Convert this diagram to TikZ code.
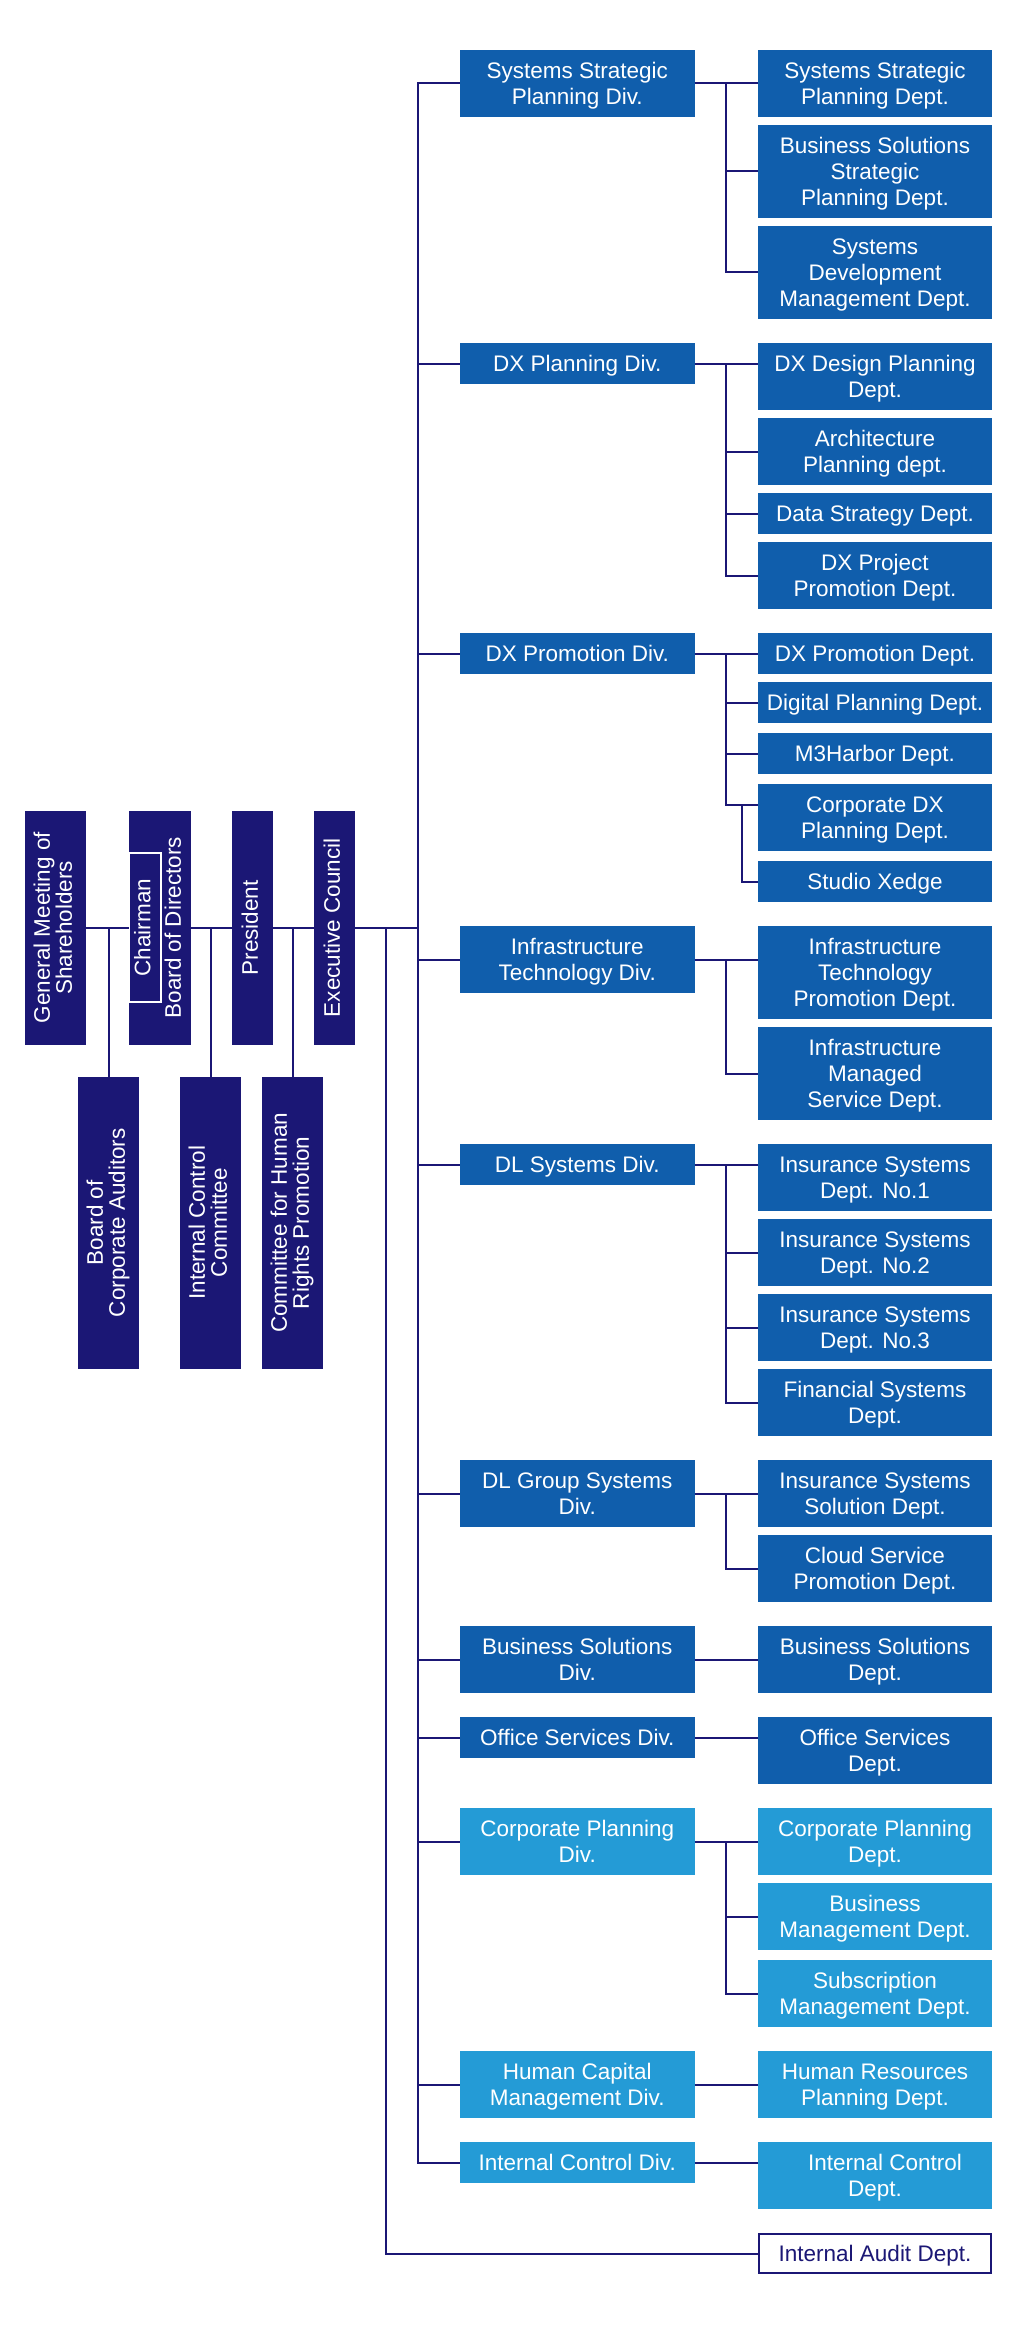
\documentclass[tikz,border=0pt]{standalone}
\usepackage{fontspec}
\usepackage{graphicx}
\setmainfont{Liberation Sans}
\usetikzlibrary{calc}
\definecolor{navy}{RGB}{27,23,117}
\definecolor{midblue}{RGB}{16,94,172}
\definecolor{lightblue}{RGB}{36,155,214}
\newcommand\govtext[1]{\rotatebox{90}{\begin{tabular}{@{}c@{}}#1\end{tabular}}}
\newcommand\bt[1]{\raisebox{-2.6pt}[\height][\depth]{\begin{tabular}{@{}c@{}}#1\end{tabular}}}
\tikzset{
  box/.style={rectangle, inner sep=0pt, align=center, text=white, font=\fontsize{22.5}{26}\selectfont},
  divbox/.style={box, fill=midblue, minimum width=234.5pt},
  deptbox/.style={box, fill=midblue, minimum width=234pt},
  ldivbox/.style={divbox, fill=lightblue},
  ldeptbox/.style={deptbox, fill=lightblue},
  govbox/.style={box, fill=navy, font=\fontsize{22.5}{19}\selectfont},
  link/.style={draw=navy, line width=2pt},
}
\begin{document}
\begin{tikzpicture}[x=1pt,y=-1pt]
\useasboundingbox[fill=white] (0,0) rectangle (1014,2325);

% ---------- governance ----------
\node[govbox, minimum width=61pt, minimum height=233.5pt] (gm) at (55.5,927.75) {\govtext{General Meeting of\\Shareholders}};
\node[govbox, minimum width=62pt, minimum height=233.5pt] (bod) at (160,927.75) {};
\node[govbox, draw=white, line width=1.5pt, minimum width=32pt, minimum height=149pt] (chair) at (145,927.5) {\govtext{Chairman}};
\node[govbox, fill=none] (bodlabel) at (175.5,927.75) {\govtext{Board of Directors}};
\node[govbox, minimum width=41pt, minimum height=233.5pt] (pres) at (252.5,927.75) {\govtext{President}};
\node[govbox, minimum width=41pt, minimum height=233.5pt] (ec) at (334.5,927.75) {\govtext{Executive Council}};
\node[govbox, minimum width=61pt, minimum height=291.5pt] (bca) at (108.5,1222.75) {\govtext{Board of\\Corporate Auditors}};
\node[govbox, minimum width=61pt, minimum height=291.5pt] (icc) at (210.5,1222.75) {\govtext{Internal Control\\Committee}};
\node[govbox, minimum width=61pt, minimum height=291.5pt] (hrc) at (292.5,1222.75) {\govtext{Committee for Human\\Rights Promotion}};

% ---------- divisions ----------
\node[divbox, minimum height=67pt] (d1) at (577.25,83.5) {\bt{Systems Strategic\\Planning Div.}};
\node[divbox, minimum height=41pt] (d2) at (577.25,363.5) {\bt{DX Planning Div.}};
\node[divbox, minimum height=41pt] (d3) at (577.25,653.5) {\bt{DX Promotion Div.}};
\node[divbox, minimum height=67pt] (d4) at (577.25,959.5) {\bt{Infrastructure\\Technology Div.}};
\node[divbox, minimum height=41pt] (d5) at (577.25,1164.5) {\bt{DL Systems Div.}};
\node[divbox, minimum height=67pt] (d6) at (577.25,1493.5) {\bt{DL Group Systems\\Div.}};
\node[divbox, minimum height=67pt] (d7) at (577.25,1659.5) {\bt{Business Solutions\\Div.}};
\node[divbox, minimum height=41pt] (d8) at (577.25,1737.5) {\bt{Office Services Div.}};
\node[ldivbox, minimum height=67pt] (d9) at (577.25,1841.5) {\bt{Corporate Planning\\Div.}};
\node[ldivbox, minimum height=67pt] (d10) at (577.25,2084.5) {\bt{Human Capital\\Management Div.}};
\node[ldivbox, minimum height=41pt] (d11) at (577.25,2162.5) {\bt{Internal Control Div.}};

% ---------- departments ----------
\node[deptbox, minimum height=67pt] (p1a) at (875,83.5) {\bt{Systems Strategic\\Planning Dept.}};
\node[deptbox, minimum height=93pt] (p1b) at (875,171.5) {\bt{Business Solutions\\Strategic\\Planning Dept.}};
\node[deptbox, minimum height=93pt] (p1c) at (875,272.5) {\bt{Systems\\Development\\Management Dept.}};

\node[deptbox, minimum height=67pt] (p2a) at (875,376.5) {\bt{DX Design Planning\\Dept.}};
\node[deptbox, minimum height=67pt] (p2b) at (875,451.5) {\bt{Architecture\\Planning dept.}};
\node[deptbox, minimum height=41pt] (p2c) at (875,513.5) {\bt{Data Strategy Dept.}};
\node[deptbox, minimum height=67pt] (p2d) at (875,575.5) {\bt{DX Project\\Promotion Dept.}};

\node[deptbox, minimum height=41pt] (p3a) at (875,653.5) {\bt{DX Promotion Dept.}};
\node[deptbox, minimum height=41pt] (p3b) at (875,702.5) {\bt{Digital Planning Dept.}};
\node[deptbox, minimum height=41pt] (p3c) at (875,753.5) {\bt{M3Harbor Dept.}};
\node[deptbox, minimum height=67pt] (p3d) at (875,817.5) {\bt{Corporate DX\\Planning Dept.}};
\node[deptbox, minimum height=41pt] (p3e) at (875,881.5) {\bt{Studio Xedge}};

\node[deptbox, minimum height=93pt] (p4a) at (875,972.5) {\bt{Infrastructure\\Technology\\Promotion Dept.}};
\node[deptbox, minimum height=93pt] (p4b) at (875,1073.5) {\bt{Infrastructure\\Managed\\Service Dept.}};

\node[deptbox, minimum height=67pt] (p5a) at (875,1177.5) {\bt{Insurance Systems\\Dept. No.1}};
\node[deptbox, minimum height=67pt] (p5b) at (875,1252.5) {\bt{Insurance Systems\\Dept. No.2}};
\node[deptbox, minimum height=67pt] (p5c) at (875,1327.5) {\bt{Insurance Systems\\Dept. No.3}};
\node[deptbox, minimum height=67pt] (p5d) at (875,1402.5) {\bt{Financial Systems\\Dept.}};

\node[deptbox, minimum height=67pt] (p6a) at (875,1493.5) {\bt{Insurance Systems\\Solution Dept.}};
\node[deptbox, minimum height=67pt] (p6b) at (875,1568.5) {\bt{Cloud Service\\Promotion Dept.}};

\node[deptbox, minimum height=67pt] (p7a) at (875,1659.5) {\bt{Business Solutions\\Dept.}};
\node[deptbox, minimum height=67pt] (p8a) at (875,1750.5) {\bt{Office Services\\Dept.}};

\node[ldeptbox, minimum height=67pt] (p9a) at (875,1841.5) {\bt{Corporate Planning\\Dept.}};
\node[ldeptbox, minimum height=67pt] (p9b) at (875,1916.5) {\bt{Business\\Management Dept.}};
\node[ldeptbox, minimum height=67pt] (p9c) at (875,1993.5) {\bt{Subscription\\Management Dept.}};

\node[ldeptbox, minimum height=67pt] (p10a) at (875,2084.5) {\bt{Human Resources\\Planning Dept.}};
\node[ldeptbox, minimum height=67pt] (p11a) at (875,2175.5) {\bt{\hspace*{20pt}Internal Control\\Dept.}};

\node[deptbox, fill=white, draw=navy, line width=2pt, text=navy, minimum width=232pt, minimum height=39pt] (audit) at (875,2253.5) {\bt{Internal Audit Dept.}};

% ---------- connectors: governance ----------
\draw[link] (gm.east) -- (bod.west);
\draw[link] (bod.east) -- (pres.west);
\draw[link] (pres.east) -- (ec.west);
\draw[link] (bca.north) -- (bca.north |- gm.east);
\draw[link] (icc.north) -- (icc.north |- gm.east);
\draw[link] (hrc.north) -- (hrc.north |- gm.east);

% ---------- connectors: trunk ----------
\coordinate (trunk) at (418,83.5);
\draw[link] (d1.west) -- (trunk) |- (d11.west);
\foreach \n in {d2,d3,d4,d5,d6,d7,d8,d9,d10}
  \draw[link] (\n.west) -- (\n.west -| trunk);
\draw[link] (ec.east) -- (ec.east -| trunk);
\coordinate (abr) at (386,927.75);
\draw[link] (abr) |- (audit.west);

% ---------- connectors: divisions to departments ----------
\draw[link] (d1.east) -- (p1a.west);
\draw[link] ([xshift=31pt]d1.east) |- (p1b.west);
\draw[link] ([xshift=31pt]d1.east) |- (p1c.west);

\draw[link] (d2.east) -- (d2.east -| p2a.west);
\foreach \n in {p2b,p2c,p2d}
  \draw[link] ([xshift=31pt]d2.east) |- (\n.west);

\draw[link] (d3.east) -- (p3a.west);
\foreach \n in {p3b,p3c}
  \draw[link] ([xshift=31pt]d3.east) |- (\n.west);
\draw[link] ([xshift=31pt]d3.east) |- ([yshift=12.5pt]p3d.west);
\draw[link] ([xshift=-16pt,yshift=12.5pt]p3d.west) |- (p3e.west);

\draw[link] (d4.east) -- (d4.east -| p4a.west);
\draw[link] ([xshift=31pt]d4.east) |- (p4b.west);

\draw[link] (d5.east) -- (d5.east -| p5a.west);
\foreach \n in {p5b,p5c,p5d}
  \draw[link] ([xshift=31pt]d5.east) |- (\n.west);

\draw[link] (d6.east) -- (p6a.west);
\draw[link] ([xshift=31pt]d6.east) |- (p6b.west);

\draw[link] (d7.east) -- (p7a.west);
\draw[link] (d8.east) -- (d8.east -| p8a.west);

\draw[link] (d9.east) -- (p9a.west);
\foreach \n in {p9b,p9c}
  \draw[link] ([xshift=31pt]d9.east) |- (\n.west);

\draw[link] (d10.east) -- (p10a.west);
\draw[link] (d11.east) -- (d11.east -| p11a.west);
\end{tikzpicture}
\end{document}
